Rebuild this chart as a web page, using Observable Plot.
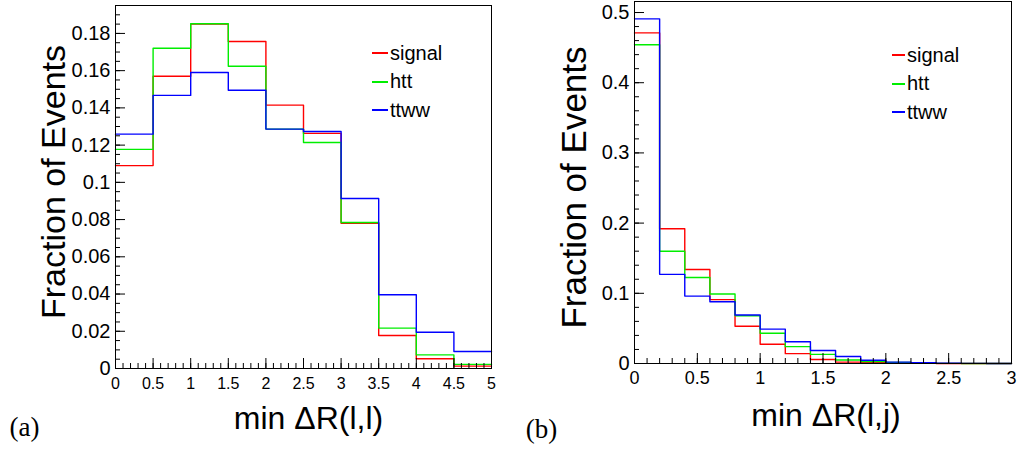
<!DOCTYPE html>
<html><head><meta charset="utf-8">
<script src="https://cdn.jsdelivr.net/npm/d3@7"></script>
<script src="https://cdn.jsdelivr.net/npm/@observablehq/plot@0.6"></script>
<style>
body{margin:0;background:#fff;}
#wrap{position:relative;width:1021px;height:456px;overflow:hidden;font-family:"Liberation Sans",Arial,Helvetica,sans-serif;}
.panel{position:absolute;top:0;}
.legend{position:absolute;font-size:20px;color:#000;}
.legend .row{display:flex;align-items:center;height:28.5px;}
.legend .sw{display:inline-block;height:2px;margin-right:2px;}
</style></head><body><div id="wrap"></div>
<script>
// ---- data ----
const seriesNames = ["signal", "htt", "ttww"];
const seriesColors = ["#ff0000", "#00ee00", "#0000ff"];

// panel (a): min ΔR(l,l), bins of 0.5 from 0 to 5
const edgesL = [0, 0.5, 1, 1.5, 2, 2.5, 3, 3.5, 4, 4.5, 5];
const signalL = [0.109, 0.157, 0.185, 0.1757, 0.1415, 0.1263, 0.078, 0.0177, 0.0052, 0.0013];
const httL    = [0.1177, 0.172, 0.1852, 0.1624, 0.1286, 0.1214, 0.0784, 0.0217, 0.0073, 0.0022];
const ttwwL   = [0.1259, 0.1467, 0.159, 0.1495, 0.1286, 0.1273, 0.0913, 0.0396, 0.0195, 0.0091];
const xTicksL = ["0", "0.5", "1", "1.5", "2", "2.5", "3", "3.5", "4", "4.5", "5"];
const yTicksL = ["0", "0.02", "0.04", "0.06", "0.08", "0.1", "0.12", "0.14", "0.16", "0.18"];

// panel (b): min ΔR(l,j), bins of 0.2 from 0 to 3
const edgesR = [0, 0.2, 0.4, 0.6, 0.8, 1, 1.2, 1.4, 1.6, 1.8, 2, 2.2, 2.4, 2.6, 2.8, 3];
const signalR = [0.471, 0.192, 0.134, 0.091, 0.053, 0.0275, 0.014, 0.0057, 0.002, 0.001, 0.0005, 0.0002, 0, 0, 0];
const httR    = [0.454, 0.160, 0.1225, 0.099, 0.068, 0.043, 0.024, 0.013, 0.005, 0.0028, 0.0014, 0.0005, 0.0002, 0, 0];
const ttwwR   = [0.491, 0.127, 0.096, 0.088, 0.069, 0.049, 0.031, 0.0185, 0.010, 0.0047, 0.0019, 0.001, 0.0005, 0.0002, 0];
const xTicksR = ["0", "0.5", "1", "1.5", "2", "2.5", "3"];
const yTicksR = ["0", "0.1", "0.2", "0.3", "0.4", "0.5"];

const yTitle = "Fraction of Events";
const xTitleL = "min \u0394R(l,l)";
const xTitleR = "min \u0394R(l,j)";
const tagL = "(a)";
const tagR = "(b)";

// ---- helpers ----
function steps(edges, seriesList) {
  const rows = [];
  seriesList.forEach((vals, k) => {
    edges.forEach((e, i) => {
      rows.push({x: e, y: vals[Math.min(i, vals.length - 1)], s: seriesNames[k]});
    });
  });
  return rows;
}
function rng(a, b, s) { const n = Math.round((b - a) / s); return d3.range(n + 1).map(i => a + i * s); }

const FONT = "'Liberation Sans', Arial, Helvetica, sans-serif";

function panel(cfg) {
  const data = steps(cfg.edges, cfg.series);
  const xMajor = cfg.xTicks.map(Number), yMajor = cfg.yTicks.map(Number);
  const fmt = (labels) => (d) => { const i = labels.findIndex(t => Math.abs(+t - d) < 1e-9); return i >= 0 ? labels[i] : ""; };
  return Plot.plot({
    width: cfg.width, height: 456,
    marginLeft: cfg.ml, marginRight: cfg.mr, marginTop: cfg.mt, marginBottom: cfg.mb,
    x: {domain: [cfg.edges[0], cfg.edges[cfg.edges.length - 1]]},
    y: {domain: [0, cfg.ymax]},
    color: {domain: seriesNames, range: seriesColors},
    style: {fontFamily: FONT, background: "transparent", overflow: "visible", color: "#000"},
    marks: [
      Plot.line(data, {x: "x", y: "y", z: "s", stroke: "s", curve: "step-after", strokeWidth: 1.4}),
      Plot.frame({stroke: "#000", strokeWidth: 1}),
      Plot.axisY({ticks: cfg.yMinor, tickSize: -5, tickFormat: () => "", label: null}),
      Plot.axisY({ticks: yMajor, tickSize: -10, tickFormat: () => "", label: null}),
      Plot.axisY({ticks: yMajor, tickSize: 0, tickPadding: cfg.ypad, tickFormat: fmt(cfg.yTicks), fontSize: 20, label: null}),
      Plot.axisX({ticks: cfg.xMinor, tickSize: -5, tickFormat: () => "", label: null}),
      Plot.axisX({ticks: xMajor, tickSize: -10, tickFormat: () => "", label: null}),
      Plot.axisX({ticks: xMajor, tickSize: 0, tickPadding: cfg.xpad, tickFormat: fmt(cfg.xTicks), fontSize: cfg.xfs, fontFamily: cfg.xff, label: null}),
      Plot.text([yTitle], {text: d => d, frameAnchor: "left", textAnchor: "middle", dx: cfg.ytdx, dy: cfg.ytdy, rotate: -90, fontSize: cfg.ytfs}),
      Plot.text([cfg.xTitle], {text: d => d, frameAnchor: "bottom", textAnchor: "middle", dx: cfg.xtdx, dy: cfg.xtdy, fontSize: 32}),
      Plot.text([cfg.tag], {text: d => d, frameAnchor: "bottom-left", textAnchor: "middle", dx: cfg.tagdx, dy: cfg.tagdy, fontSize: 27, fontFamily: "'Liberation Serif', 'Times New Roman', serif"})
    ]
  });
}

function legend(left, top, sw) {
  const div = document.createElement("div");
  div.className = "legend";
  div.style.left = left + "px";
  div.style.top = top + "px";
  seriesNames.forEach((n, i) => {
    const row = document.createElement("div");
    row.className = "row";
    const s = document.createElement("span");
    s.className = "sw";
    s.style.width = sw + "px";
    s.style.background = seriesColors[i];
    row.appendChild(s);
    row.appendChild(document.createTextNode(n));
    div.appendChild(row);
  });
  return div;
}

const wrap = document.getElementById("wrap");
const pL = panel({
  width: 510, ml: 115, mr: 19, mt: 5, mb: 88, ymax: 0.195,
  edges: edgesL, series: [signalL, httL, ttwwL], xTicks: xTicksL, yTicks: yTicksL,
  xMinor: rng(0, 5, 0.1), yMinor: rng(0, 0.195, 0.005),
  ypad: 5, xpad: 9, xfs: 16, xff: "'Liberation Sans Narrow', 'Liberation Sans', Arial, sans-serif",
  ytdx: -61, ytdy: -5, ytfs: 34,
  xTitle: xTitleL, xtdx: 5, xtdy: 60, tag: tagL, tagdx: -91, tagdy: 67
});
pL.classList.add("panel"); pL.style.left = "0px";
const pR = panel({
  width: 511, ml: 124, mr: 10, mt: 1, mb: 93, ymax: 0.5157,
  edges: edgesR, series: [signalR, httR, ttwwR], xTicks: xTicksR, yTicks: yTicksR,
  xMinor: rng(0, 3, 0.1), yMinor: rng(0, 0.51, 0.02),
  ypad: 5, xpad: 8, xfs: 18, xff: FONT,
  ytdx: -60, ytdy: 5, ytfs: 35,
  xTitle: xTitleR, xtdx: 3, xtdy: 62, tag: tagR, tagdx: -93, tagdy: 74
});
pR.classList.add("panel"); pR.style.left = "510px";
wrap.appendChild(pL);
wrap.appendChild(pR);
wrap.appendChild(legend(372, 39, 16));
wrap.appendChild(legend(892, 41, 13));
</script></body></html>
